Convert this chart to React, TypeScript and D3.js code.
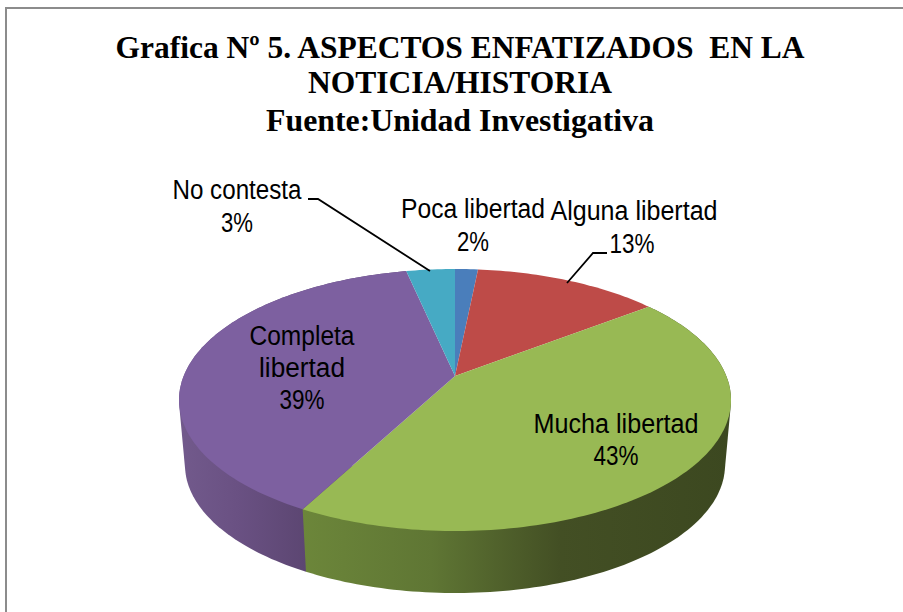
import React from "react";
import * as d3 from "d3";

const categories = ["Poca libertad", "Alguna libertad", "Mucha libertad", "Completa libertad", "No contesta"];
const shares = [1.6, 13, 43.2, 38.8, 3.4];
const displayed = ["2%", "13%", "43%", "39%", "3%"];
const colors = ["#4a7ebb", "#be4b48", "#98b954", "#7d60a0", "#46aac4"];
const titleLines = ["Grafica Nº 5. ASPECTOS ENFATIZADOS  EN LA", "NOTICIA/HISTORIA", "Fuente:Unidad Investigativa"];

const W = 903, H = 612;
const top_ = { cx: 455, cy: 400, rx: 276, ry: 131 };
const bottom_ = { cx: 455, cy: 465, rx: 270, ry: 128 };
const hubOffset = 24;
const p = hubOffset / top_.ry;

type E = typeof top_;
const project = (a: number, e: E): [number, number] => {
  const u = Math.sin(a), v = -Math.cos(a);
  const w = 1 - p * v;
  return [
    e.cx + (e.rx * Math.sqrt(1 - p * p) * u) / w,
    e.cy + (e.ry * (v - p)) / w,
  ];
};
const arcPts = (a0: number, a1: number, e: E) => {
  const n = Math.max(2, Math.ceil(Math.abs(a1 - a0) / 0.02));
  return d3.range(n + 1).map((i) => project(a0 + ((a1 - a0) * i) / n, e));
};
const line = d3.line<[number, number]>();

const slices = d3.pie<number>().sort(null).value((d) => d)(shares);

const labelFont = "'Liberation Sans', sans-serif";
const titleLayout = [
  { y: 58, w: 689 },
  { y: 93, w: 304 },
  { y: 131, w: 388 },
];
const labels = [
  { i: 0, lines: [{ t: categories[0], x: 473, y: 218, w: 144 }, { t: displayed[0], x: 473, y: 251, w: 32 }] },
  { i: 1, lines: [{ t: categories[1], x: 634, y: 220, w: 167 }, { t: displayed[1], x: 632, y: 253, w: 45 }] },
  { i: 2, lines: [{ t: categories[2], x: 616, y: 433, w: 165 }, { t: displayed[2], x: 616, y: 465, w: 45 }] },
  { i: 3, lines: [{ t: "Completa", x: 302, y: 345, w: 105 }, { t: "libertad", x: 302, y: 377, w: 86 }, { t: displayed[3], x: 302, y: 409, w: 45 }] },
  { i: 4, lines: [{ t: categories[4], x: 237, y: 199, w: 129 }, { t: displayed[4], x: 237, y: 232, w: 32 }] },
];
const leaders: [number, number][][] = [
  [[308, 199], [318, 199], [430, 271]],
  [[607, 253], [593, 253], [567, 283]],
];

export default function App() {
  const hub: [number, number] = [top_.cx, top_.cy - hubOffset];
  return (
    <svg width={W} height={H} viewBox={`0 0 ${W} ${H}`} style={{ position: "absolute", left: 0, top: 0, background: "#fff" }}>
      <defs>
        <linearGradient id="g-purple" gradientUnits="userSpaceOnUse" x1={179} x2={306} y1={0} y2={0}>
          <stop offset="0" stopColor="#725a8c" />
          <stop offset="0.45" stopColor="#6a5183" />
          <stop offset="1" stopColor="#5c4672" />
        </linearGradient>
        <linearGradient id="g-green" gradientUnits="userSpaceOnUse" x1={303} x2={731} y1={0} y2={0}>
          <stop offset="0" stopColor="#6c863a" />
          <stop offset="0.3" stopColor="#5f7634" />
          <stop offset="0.6" stopColor="#434f24" />
          <stop offset="1" stopColor="#3c4820" />
        </linearGradient>
      </defs>
      <path d={`M6 612V8H903`} fill="none" stroke="#8c8c8c" strokeWidth={2} />
      {titleLines.map((t, i) => (
        <text key={i} x={460} y={titleLayout[i].y} textAnchor="middle" textLength={titleLayout[i].w}
          lengthAdjust="spacingAndGlyphs" style={{ whiteSpace: "pre" }}
          fontFamily="'Liberation Serif', serif" fontWeight="bold" fontSize={32}>{t}</text>
      ))}
      {[3, 2].map((i) => {
        const s = slices[i];
        const hull = d3.polygonHull([...arcPts(s.startAngle, s.endAngle, top_), ...arcPts(s.startAngle, s.endAngle, bottom_)])!;
        return <path key={i} d={line(hull)! + "Z"} fill={i === 2 ? "url(#g-green)" : "url(#g-purple)"} />;
      })}
      {slices.map((s, i) => (
        <path key={i} d={line([hub, ...arcPts(s.startAngle, s.endAngle, top_)])! + "Z"} fill={colors[i]} />
      ))}
      {leaders.map((l, i) => (
        <path key={i} d={line(l)!} fill="none" stroke="#000" strokeWidth={1.8} />
      ))}
      {labels.flatMap((l) =>
        l.lines.map((ln, j) => (
          <text key={`${l.i}-${j}`} x={ln.x} y={ln.y} textAnchor="middle" fontFamily={labelFont}
            fontSize={27} textLength={ln.w} lengthAdjust="spacingAndGlyphs" fill="#000">{ln.t}</text>
        ))
      )}
    </svg>
  );
}
